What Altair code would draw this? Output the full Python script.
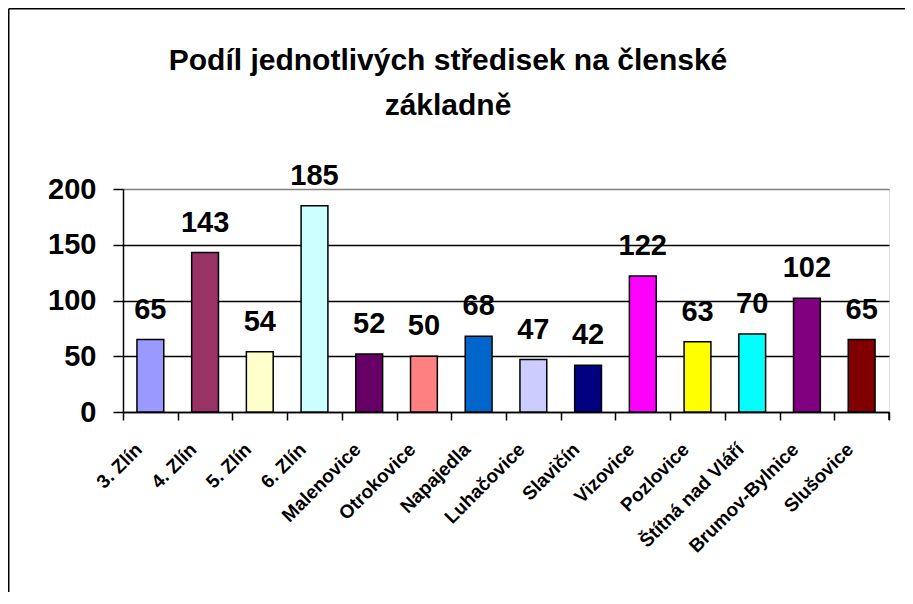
import altair as alt
import pandas as pd

categories = ["3. Zlín", "4. Zlín", "5. Zlín", "6. Zlín", "Malenovice", "Otrokovice",
              "Napajedla", "Luhačovice", "Slavičín", "Vizovice", "Pozlovice",
              "Štítná nad Vláří", "Brumov-Bylnice", "Slušovice"]
values = [65, 143, 54, 185, 52, 50, 68, 47, 42, 122, 63, 70, 102, 65]
colors = ["#9999FF", "#993366", "#FFFFCC", "#CCFFFF", "#660066", "#FF8080",
          "#0066CC", "#CCCCFF", "#000080", "#FF00FF", "#FFFF00", "#00FFFF",
          "#800080", "#800000"]
y_ticks = [0, 50, 100, 150, 200]
title_lines = ["Podíl jednotlivých středisek na členské", "základně"]

df = pd.DataFrame({"stredisko": categories, "pocet": values, "barva": colors})

FONT = "Liberation Sans"

x_enc = alt.X("stredisko:N", sort=categories, title=None,
              scale=alt.Scale(paddingInner=0, paddingOuter=0),
              axis=alt.Axis(labelAngle=-45, labelAlign="right", labelBaseline="middle",
                            labelFont=FONT, labelFontSize=19, labelFontWeight="bold",
                            labelColor="black", labelPadding=26, labelOffset=-12,
                            domainColor="black", domainWidth=1.5,
                            tickColor="black", tickWidth=1.5, tickSize=8,
                            tickBand="extent", bandPosition=0, labelBound=False,
                            labelOverlap=False, grid=False))

y_enc = alt.Y("pocet:Q", title=None,
              scale=alt.Scale(domain=[0, 200], nice=False),
              axis=alt.Axis(values=y_ticks, labelFont=FONT, labelFontSize=29,
                            labelFontWeight="bold", labelColor="black", labelPadding=17,
                            domainColor="black", domainWidth=1.5,
                            tickColor="black", tickWidth=1.5, tickSize=10,
                            grid=True, gridWidth=1.5,
                            gridColor=alt.condition("datum.value >= 200", alt.value("#808080"), alt.value("black"))))

bars = alt.Chart(df).mark_bar(width=alt.RelativeBandSize(0.49), stroke="black", strokeWidth=1.5).encode(
    x=x_enc, y=y_enc,
    color=alt.Color("barva:N", scale=None, legend=None),
)

labels = alt.Chart(df).mark_text(font=FONT, fontSize=29, fontWeight="bold", color="black",
                                 baseline="alphabetic", dy=-21).encode(
    x=alt.X("stredisko:N", sort=categories),
    y="pocet:Q",
    text="pocet:Q",
)

deco_df = pd.DataFrame({"k": [1]})
top_line = alt.Chart(deco_df).mark_rule(color="black", strokeWidth=1.5).encode(
    x=alt.value(-114.25), x2=alt.value(900), y=alt.value(-180.25))
left_line = alt.Chart(deco_df).mark_rule(color="black", strokeWidth=1.5).encode(
    x=alt.value(-114.25), y=alt.value(-180.25), y2=alt.value(500))
end_tick = alt.Chart(deco_df).mark_rule(color="black", strokeWidth=1.5).encode(
    x=alt.value(766), y=alt.value(223), y2=alt.value(231))

chart = alt.layer(bars, labels, top_line, left_line, end_tick).properties(
    width=766, height=223,
    title=alt.TitleParams(title_lines, font=FONT, fontSize=30, fontWeight="bold",
                          color="black", anchor="middle", dx=-58, offset=0, dy=113,
                          lineHeight=45, frame="group"),
    autosize=alt.AutoSizeParams(type="none"),
    padding={"left": 115, "top": 181, "right": 16, "bottom": 180},
).configure_view(stroke="#808080", strokeWidth=1.5, fill="#C0C0C0"
).configure(background="white")

chart.save("out.html", embed_options={"renderer": "svg", "actions": False})
